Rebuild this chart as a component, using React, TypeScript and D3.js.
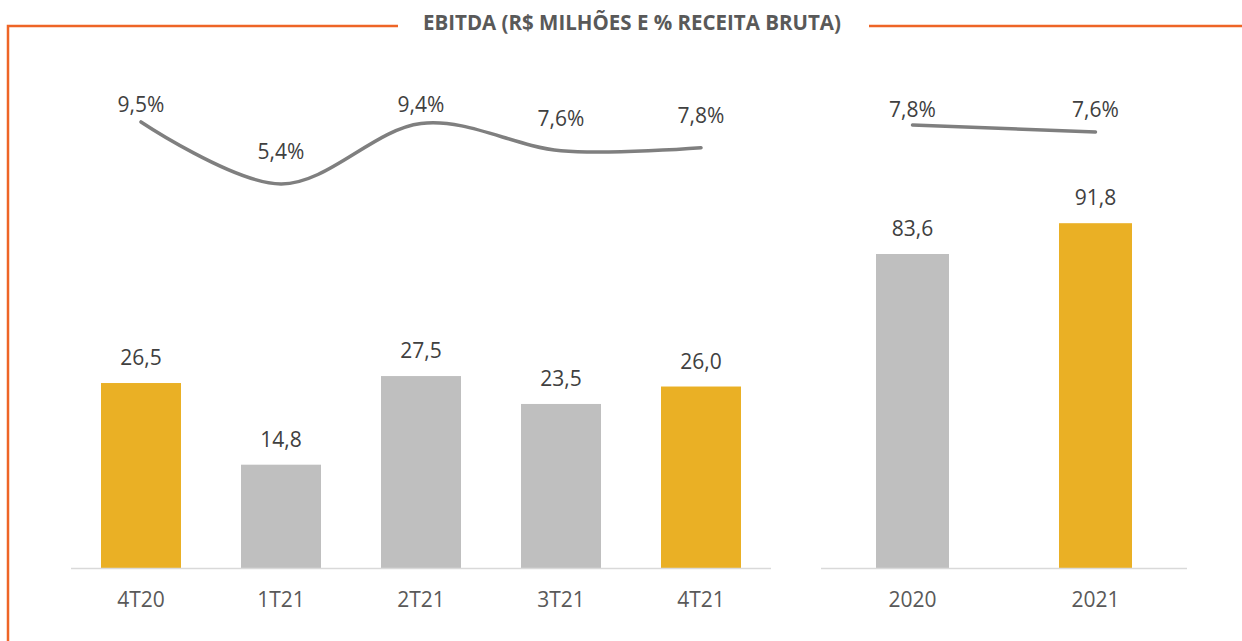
import React from "react";
import * as d3 from "d3";

const quarters = ["4T20", "1T21", "2T21", "3T21", "4T21"];
const quarterEbitda = [26.5, 14.8, 27.5, 23.5, 26.0];
const quarterMargin = [9.5, 5.4, 9.4, 7.6, 7.8];
const quarterHighlight = [true, false, false, false, true];

const years = ["2020", "2021"];
const yearEbitda = [83.6, 91.8];
const yearMargin = [7.8, 7.6];
const yearHighlight = [false, true];

const title = "EBITDA (R$ MILHÕES E % RECEITA BRUTA)";

const W = 1242;
const H = 641;
const BASE = 568;
const GOLD = "#EAB025";
const GRAY = "#BFBFBF";
const LINE = "#7F7F7F";
const ORANGE = "#EE6526";
const FONT = "'Open Sans', sans-serif";

const fmt = (v: number, d = 1) => v.toFixed(d).replace(".", ",");

function Panel({
  cats, bars, margins, hl, x0, x1, padInner, barMax, barTop, lineDomain, lineRange, labelMinY,
}: {
  cats: string[]; bars: number[]; margins: number[]; hl: boolean[];
  x0: number; x1: number; padInner: number; barMax: number; barTop: number;
  lineDomain: [number, number]; lineRange: [number, number]; labelMinY: number;
}) {
  const x = d3.scaleBand<string>().domain(cats).range([x0, x1]).paddingInner(padInner).paddingOuter(padInner / 2);
  const y = d3.scaleLinear().domain([0, barMax]).range([BASE, barTop]);
  const yl = d3.scaleLinear().domain(lineDomain).range(lineRange);
  const cx = (c: string) => (x(c) as number) + x.bandwidth() / 2;
  const pts = cats.map((c, i) => [cx(c), yl(margins[i])] as [number, number]);
  const line = d3.line().curve(d3.curveCatmullRom.alpha(0))(pts) || "";
  return (
    <g>
      {cats.map((c, i) => (
        <rect key={c} x={x(c)} y={y(bars[i])} width={x.bandwidth()} height={BASE - y(bars[i])} fill={hl[i] ? GOLD : GRAY} />
      ))}
      <line x1={x0} x2={x1} y1={BASE + 0.5} y2={BASE + 0.5} stroke="#D9D9D9" strokeWidth={1.5} />
      {cats.map((c, i) => (
        <text key={"v" + c} x={cx(c)} y={y(bars[i]) - 18} textAnchor="middle" fontSize={21} fill="#404040" fontFamily={FONT}>
          {fmt(bars[i])}
        </text>
      ))}
      {cats.map((c) => (
        <text key={"c" + c} x={cx(c)} y={607} textAnchor="middle" fontSize={21} fill="#595959" fontFamily={FONT}>
          {c}
        </text>
      ))}
      <path d={line} fill="none" stroke={LINE} strokeWidth={3.5} strokeLinecap="round" />
      {cats.map((c, i) => (
        <text key={"m" + c} x={cx(c)} y={Math.max(yl(margins[i]) - 25, labelMinY)} textAnchor="middle" fontSize={21} fill="#404040" fontFamily={FONT}>
          {fmt(margins[i]) + "%"}
        </text>
      ))}
    </g>
  );
}

export default function App() {
  return (
    <svg width={W} height={H} style={{ position: "absolute", left: 0, top: 0, background: "#fff" }}>
      <rect width={W} height={H} fill="#fff" />
      <path d={`M8,${H} V26 H398`} fill="none" stroke={ORANGE} strokeWidth={2.5} />
      <line x1={869} x2={W} y1={26} y2={26} stroke={ORANGE} strokeWidth={2.5} />
      <text x={632} y={30} textAnchor="middle" fontSize={20.5} fontWeight="bold" fill="#595959" fontFamily={FONT}>
        {title}
      </text>
      <Panel cats={quarters} bars={quarterEbitda} margins={quarterMargin} hl={quarterHighlight}
        x0={71} x1={771} padInner={3 / 7} barMax={40} barTop={BASE - 279.2}
        lineDomain={[5, 10]} lineRange={[190, 114.4]} labelMinY={112} />
      <Panel cats={years} bars={yearEbitda} margins={yearMargin} hl={yearHighlight}
        x0={821} x1={1187} padInner={110 / 183} barMax={100} barTop={BASE - 375.6}
        lineDomain={[7, 8]} lineRange={[153, 118]} labelMinY={117} />
    </svg>
  );
}
